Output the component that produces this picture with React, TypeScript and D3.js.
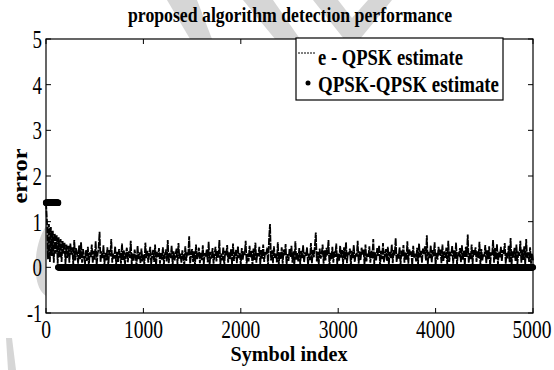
import React from 'react';
import * as d3 from 'd3';

// e - QPSK estimate, sampled every 10 symbols (0..5000)
const eStep = 10;
const eValues = [
  1.42, 1.02, 0.18, 0.95, 0.12, 0.88, 0.25, 0.8, 0.1, 0.74, 0.3, 0.7, 0.08, 0.66, 0.22, 0.62, 0.12, 0.58, 0.3, 0.55,
  0.06, 0.5, 0.2, 0.47, 0.1, 0.52, 0.28, 0.44, 0.05, 0.6, 0.15, 0.42, 0.3, 0.08, 0.48, 0.18, 0.55, 0.1, 0.4, 0.25,
  0.05, 0.38, 0.14, 0.45, 0.03, 0.33, 0.22, 0.5, 0.09, 0.36, 0.17, 0.57, 0.04, 0.29, 0.41, 0.78, 0.11, 0.35, 0.2, 0.48,
  0.07, 0.32, 0.15, 0.44, 0.02, 0.38, 0.24, 0.62, 0.1, 0.3, 0.19, 0.46, 0.06, 0.34, 0.12, 0.4, 0.27, 0.08, 0.52, 0.16,
  0.37, 0.04, 0.29, 0.43, 0.11, 0.35, 0.21, 0.58, 0.06, 0.31, 0.14, 0.39, 0.25, 0.03, 0.47, 0.18, 0.33, 0.09, 0.41, 0.13,
  0.28, 0.05, 0.54, 0.2, 0.36, 0.1, 0.3, 0.45, 0.07, 0.26, 0.38, 0.12, 0.5, 0.03, 0.34, 0.23, 0.42, 0.08, 0.31, 0.17,
  0.44, 0.06, 0.27, 0.39, 0.13, 0.6, 0.09, 0.32, 0.2, 0.47, 0.04, 0.35, 0.15, 0.28, 0.41, 0.07, 0.53, 0.19, 0.3, 0.1,
  0.37, 0.22, 0.05, 0.46, 0.14, 0.33, 0.26, 0.68, 0.08, 0.29, 0.4, 0.12, 0.35, 0.03, 0.5, 0.18, 0.27, 0.43, 0.09, 0.32,
  0.16, 0.48, 0.06, 0.31, 0.24, 0.39, 0.11, 0.56, 0.04, 0.34, 0.19, 0.42, 0.08, 0.28, 0.45, 0.13, 0.37, 0.21, 0.6, 0.07,
  0.3, 0.15, 0.44, 0.02, 0.36, 0.25, 0.49, 0.1, 0.33, 0.18, 0.4, 0.06, 0.52, 0.14, 0.29, 0.38, 0.09, 0.46, 0.2, 0.31,
  0.05, 0.42, 0.17, 0.35, 0.27, 0.58, 0.08, 0.3, 0.13, 0.47, 0.22, 0.36, 0.04, 0.41, 0.16, 0.54, 0.1, 0.32, 0.24, 0.45,
  0.07, 0.38, 0.19, 0.5, 0.12, 0.34, 0.28, 0.43, 0.03, 0.62, 0.95, 0.15, 0.37, 0.09, 0.46, 0.21, 0.3, 0.11, 0.55, 0.06,
  0.33, 0.18, 0.44, 0.08, 0.39, 0.26, 0.51, 0.05, 0.29, 0.14, 0.4, 0.23, 0.47, 0.1, 0.35, 0.02, 0.57, 0.17, 0.31, 0.12,
  0.42, 0.07, 0.36, 0.2, 0.48, 0.11, 0.33, 0.25, 0.44, 0.04, 0.3, 0.16, 0.53, 0.09, 0.38, 0.22, 0.46, 0.76, 0.13, 0.34,
  0.05, 0.41, 0.19, 0.29, 0.5, 0.08, 0.37, 0.15, 0.43, 0.26, 0.6, 0.03, 0.32, 0.18, 0.45, 0.1, 0.35, 0.23, 0.52, 0.07,
  0.3, 0.14, 0.47, 0.21, 0.38, 0.06, 0.44, 0.17, 0.55, 0.09, 0.33, 0.27, 0.41, 0.04, 0.36, 0.2, 0.49, 0.12, 0.31, 0.24,
  0.58, 0.08, 0.35, 0.16, 0.43, 0.28, 0.39, 0.05, 0.5, 0.13, 0.3, 0.22, 0.46, 0.1, 0.37, 0.19, 0.62, 0.07, 0.33, 0.15,
  0.42, 0.25, 0.48, 0.03, 0.36, 0.18, 0.53, 0.11, 0.29, 0.4, 0.14, 0.45, 0.06, 0.34, 0.21, 0.5, 0.09, 0.38, 0.26, 0.64,
  0.12, 0.31, 0.19, 0.44, 0.05, 0.37, 0.23, 0.49, 0.1, 0.33, 0.16, 0.57, 0.08, 0.4, 0.27, 0.35, 0.04, 0.47, 0.2, 0.3,
  0.13, 0.43, 0.07, 0.52, 0.22, 0.36, 0.1, 0.41, 0.29, 0.46, 0.15, 0.7, 0.06, 0.34, 0.2, 0.48, 0.11, 0.38, 0.24, 0.55,
  0.03, 0.32, 0.17, 0.45, 0.26, 0.39, 0.09, 0.5, 0.14, 0.35, 0.21, 0.43, 0.05, 0.58, 0.12, 0.3, 0.25, 0.47, 0.08, 0.37,
  0.19, 0.54, 0.06, 0.33, 0.28, 0.42, 0.11, 0.48, 0.16, 0.36, 0.04, 0.45, 0.23, 0.72, 0.1, 0.31, 0.18, 0.5, 0.07, 0.39,
  0.27, 0.44, 0.12, 0.35, 0.2, 0.56, 0.05, 0.4, 0.15, 0.3, 0.24, 0.49, 0.09, 0.37, 0.18, 0.46, 0.03, 0.33, 0.26, 0.6,
  0.1, 0.42, 0.17, 0.51, 0.06, 0.34, 0.22, 0.45, 0.13, 0.38, 0.29, 0.53, 0.08, 0.32, 0.19, 0.47, 0.11, 0.64, 0.04, 0.36,
  0.21, 0.43, 0.14, 0.5, 0.07, 0.35, 0.25, 0.58, 0.1, 0.39, 0.16, 0.46, 0.05, 0.62, 0.2, 0.33, 0.12, 0.44, 0.08, 0.3,
  0.15,
];

// QPSK-QPSK estimate: constant runs of symbol errors
const runStart = [1, 126];
const runEnd = [125, 5000];
const runValue = [1.414, 0];

const xTicks = [0, 1000, 2000, 3000, 4000, 5000];
const yTicks = [-1, 0, 1, 2, 3, 4, 5];

const W = 554;
const H = 370;
const left = 46;
const right = 533;
const top = 39;
const bottom = 313;
const serif = '"Liberation Serif", "Times New Roman", serif';

export default function App() {
  const x = d3.scaleLinear().domain([0, 5000]).range([left, right]);
  const y = d3.scaleLinear().domain([-1, 5]).range([bottom, top]);

  const line = d3
    .line<number>()
    .x((d, i) => x(i * eStep))
    .y((d) => y(d));

  const dots: { i: number; v: number }[] = [];
  runStart.forEach((s, k) => {
    for (let i = s; i <= runEnd[k]; i += 3) dots.push({ i, v: runValue[k] });
  });

  const tick = 5;

  return (
    <svg width={W} height={H} style={{ position: 'absolute', left: 0, top: 0, background: '#fff' }}>
      <rect width={W} height={H} fill="#fff" />
      <defs>
        <clipPath id="plot">
          <rect x={left - 4} y={top} width={right - left + 8} height={bottom - top} />
        </clipPath>
      </defs>

      {/* faint watermark outside the axes */}
      <g fill="#d6d6d6">
        <polygon points="167,0 197,0 212,39 190,39" />
        <polygon points="243,0 273,0 300,39 275,39" />
        <polygon points="313,0 338,0 352,18 368,0 392,0 360,39 344,39" />
        <path d="M46,226 C38,238 34,258 36,275 C37,284 40,292 46,296 Z" />
        <polygon points="6,338 12,338 16,370 8,370" />
      </g>

      <g clipPath="url(#plot)">
        <path
          d={line(eValues) || ''}
          fill="none"
          stroke="#000"
          strokeWidth={1.8}
          strokeLinejoin="miter"
          strokeDasharray="7,1"
        />
        {dots.map((d, k) => (
          <circle key={k} cx={x(d.i)} cy={y(d.v)} r={3.2} fill="#000" />
        ))}
      </g>

      {/* frame */}
      <rect x={left} y={top} width={right - left} height={bottom - top} fill="none" stroke="#000" strokeWidth={1.2} />

      {/* ticks */}
      {xTicks.map((t) => (
        <g key={'x' + t}>
          <line x1={x(t)} x2={x(t)} y1={bottom} y2={bottom - tick} stroke="#000" />
          <line x1={x(t)} x2={x(t)} y1={top} y2={top + tick} stroke="#000" />
          <text
            x={t === 5000 ? x(t) - 1 : x(t)}
            y={338}
            textAnchor="middle"
            fontFamily={serif}
            fontSize={26}
            textLength={9.75 * String(t).length}
            lengthAdjust="spacingAndGlyphs"
          >
            {t}
          </text>
        </g>
      ))}
      {yTicks.map((t) => (
        <g key={'y' + t}>
          <line x1={left} x2={left + tick} y1={y(t)} y2={y(t)} stroke="#000" />
          <line x1={right} x2={right - tick} y1={y(t)} y2={y(t)} stroke="#000" />
          <text
            x={42}
            y={y(t) + 9}
            textAnchor="end"
            fontFamily={serif}
            fontSize={25}
            textLength={t < 0 ? 15 : 9.5}
            lengthAdjust="spacingAndGlyphs"
          >
            {t}
          </text>
        </g>
      ))}

      {/* title and labels */}
      <text x={290} y={22} textAnchor="middle" fontFamily={serif} fontWeight="bold" fontSize={21} textLength={324} lengthAdjust="spacingAndGlyphs">
        proposed algorithm detection performance
      </text>
      <text x={289} y={361} textAnchor="middle" fontFamily={serif} fontWeight="bold" fontSize={22} textLength={117} lengthAdjust="spacingAndGlyphs">
        Symbol index
      </text>
      <text
        transform={`translate(27,${(top + bottom) / 2}) rotate(-90)`}
        textAnchor="middle"
        fontFamily={serif}
        fontWeight="bold"
        fontSize={22}
        textLength={55}
        lengthAdjust="spacingAndGlyphs"
      >
        error
      </text>

      {/* legend */}
      <g>
        <rect x={296} y={38} width={207} height={62} fill="#fff" stroke="#000" strokeWidth={1.2} />
        <line x1={298} x2={315} y1={53} y2={53} stroke="#000" strokeDasharray="2,1" />
        <text x={318} y={65} fontFamily={serif} fontWeight="bold" fontSize={23} textLength={145} lengthAdjust="spacingAndGlyphs">
          e - QPSK estimate
        </text>
        <circle cx={308} cy={83} r={2.5} fill="#000" />
        <text x={318} y={92} fontFamily={serif} fontWeight="bold" fontSize={23} textLength={181} lengthAdjust="spacingAndGlyphs">
          QPSK-QPSK estimate
        </text>
      </g>
    </svg>
  );
}
